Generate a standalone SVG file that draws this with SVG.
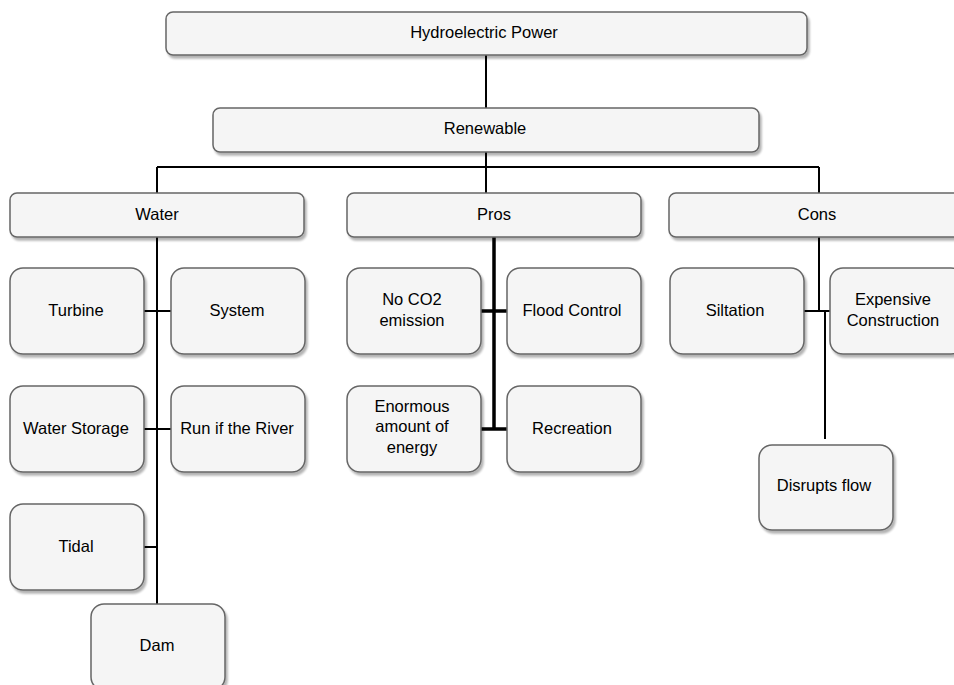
<svg xmlns="http://www.w3.org/2000/svg" width="954" height="685" viewBox="0 0 954 685">
<defs>
<filter id="sh" x="-10%" y="-10%" width="130%" height="140%">
<feGaussianBlur in="SourceAlpha" stdDeviation="1.2"/>
<feOffset dx="2" dy="3" result="o"/>
<feComponentTransfer><feFuncA type="linear" slope="0.3"/></feComponentTransfer>
<feMerge><feMergeNode/><feMergeNode in="SourceGraphic"/></feMerge>
</filter>
</defs>
<style>
.b{fill:#f5f5f5;stroke:#666;stroke-width:1.5;filter:url(#sh)}
.t{font-family:"Liberation Sans",Arial,sans-serif;font-size:16.5px;fill:#000;text-anchor:middle}
.c{stroke:#000;stroke-width:2;fill:none}
.k{stroke:#000;stroke-width:3.5;fill:none}
</style>
<rect width="954" height="685" fill="#fff"/>
<g id="connectors">
<path class="c" d="M486 55V108"/>
<path class="c" d="M486 152V167M157 167H819M157 167V193M486 167V193M819 167V193"/>
<path class="c" d="M157 237V604M144 311H171M144 429H171M144 547H157"/>
<path class="k" d="M494 237V429M481 311H507M481 429H507"/>
<path class="c" d="M819 237V311M804 311H830M825 311V439"/>
</g>
<g id="n-hydro"><rect class="b" x="166" y="12" width="641" height="43" rx="7"/><text class="t" x="484" y="38">Hydroelectric Power</text></g>
<g id="n-renew"><rect class="b" x="213" y="108" width="546" height="44" rx="7"/><text class="t" x="485" y="134">Renewable</text></g>
<g id="n-water"><rect class="b" x="10" y="193" width="294" height="44" rx="7"/><text class="t" x="157" y="220">Water</text></g>
<g id="n-pros"><rect class="b" x="347" y="193" width="294" height="44" rx="7"/><text class="t" x="494" y="220">Pros</text></g>
<g id="n-cons"><rect class="b" x="669" y="193" width="294" height="44" rx="7"/><text class="t" x="817" y="220">Cons</text></g>
<g id="n-turbine"><rect class="b" x="10" y="268" width="134" height="86" rx="13"/><text class="t" x="76" y="316">Turbine</text></g>
<g id="n-system"><rect class="b" x="171" y="268" width="134" height="86" rx="13"/><text class="t" x="237" y="316">System</text></g>
<g id="n-storage"><rect class="b" x="10" y="386" width="134" height="86" rx="13"/><text class="t" x="76" y="434">Water Storage</text></g>
<g id="n-run"><rect class="b" x="171" y="386" width="134" height="86" rx="13"/><text class="t" x="237" y="434">Run if the River</text></g>
<g id="n-tidal"><rect class="b" x="10" y="504" width="134" height="86" rx="13"/><text class="t" x="76" y="552">Tidal</text></g>
<g id="n-dam"><rect class="b" x="91" y="604" width="134" height="86" rx="13"/><text class="t" x="157" y="651">Dam</text></g>
<g id="n-noco2"><rect class="b" x="347" y="268" width="134" height="86" rx="13"/><text class="t" x="412" y="305">No CO2</text><text class="t" x="412" y="326">emission</text></g>
<g id="n-flood"><rect class="b" x="507" y="268" width="134" height="86" rx="13"/><text class="t" x="572" y="316">Flood Control</text></g>
<g id="n-enorm"><rect class="b" x="347" y="386" width="134" height="86" rx="13"/><text class="t" x="412" y="412">Enormous</text><text class="t" x="412" y="432">amount of</text><text class="t" x="412" y="453">energy</text></g>
<g id="n-recre"><rect class="b" x="507" y="386" width="134" height="86" rx="13"/><text class="t" x="572" y="434">Recreation</text></g>
<g id="n-silt"><rect class="b" x="670" y="268" width="134" height="86" rx="13"/><text class="t" x="735" y="316">Siltation</text></g>
<g id="n-exp"><rect class="b" x="830" y="268" width="134" height="86" rx="13"/><text class="t" x="893" y="305">Expensive</text><text class="t" x="893" y="326">Construction</text></g>
<g id="n-disrupt"><rect class="b" x="759" y="445" width="134" height="85" rx="13"/><text class="t" x="824" y="491">Disrupts flow</text></g>
</svg>
